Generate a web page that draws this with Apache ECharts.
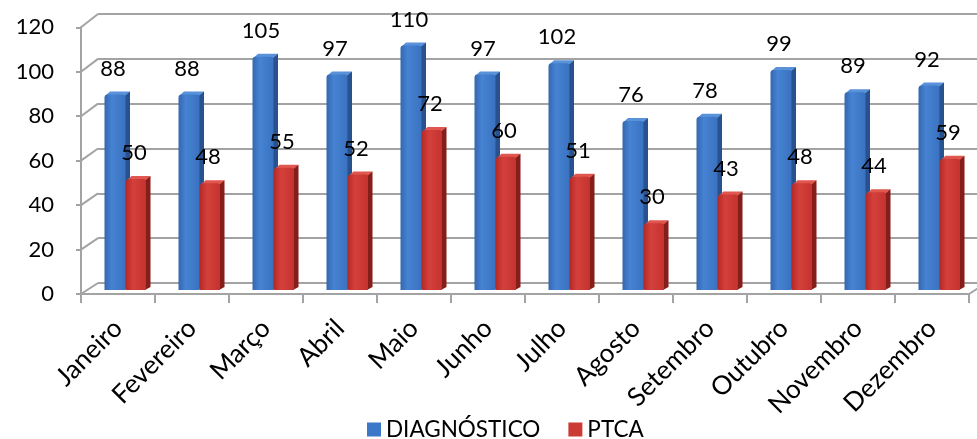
<!DOCTYPE html>
<html>
<head>
<meta charset="utf-8">
<script src="https://cdn.jsdelivr.net/npm/echarts@6/dist/echarts.min.js"></script>
<style>
  html, body { margin: 0; padding: 0; background: #fff; }
  #chart { width: 977px; height: 439px; }
</style>
</head>
<body>
<div id="chart"></div>
<script>
// Monthly procedure counts
const months = ['Janeiro', 'Fevereiro', 'Março', 'Abril', 'Maio', 'Junho',
  'Julho', 'Agosto', 'Setembro', 'Outubro', 'Novembro', 'Dezembro'];
const diagnostico = [88, 88, 105, 97, 110, 97, 102, 76, 78, 99, 89, 92];
const ptca = [50, 48, 55, 52, 72, 60, 51, 30, 43, 48, 44, 59];
const yTicks = [0, 20, 40, 60, 80, 100, 120];

const FONT = 'Lato, "Noto Sans", sans-serif';
const GRID_LINE = '#a3a3a3';

// Front plane (axes, labels, bars) and back wall of the pseudo-3D box
const W = 977, H = 439;
const FRONT = { left: 81, right: 8, top: 27.3, bottom: 145 };
const BACK = { left: 98, right: -9, top: 14, bottom: 156 };

// Bar geometry relative to the category centre on the front plane
const LIFT = 4;          // bars stand slightly behind the front edge
const SIDE_X = 4.5, SIDE_Y = 3;

const palettes = {
  blue: {
    front: new echarts.graphic.LinearGradient(0, 0, 1, 0, [
      { offset: 0, color: '#3467b0' }, { offset: 0.35, color: '#4683d2' },
      { offset: 1, color: '#3a72c0' }]),
    side: '#28528f', top: '#5a92da', legend: '#3b78c8'
  },
  red: {
    front: new echarts.graphic.LinearGradient(0, 0, 1, 0, [
      { offset: 0, color: '#b52a26' }, { offset: 0.35, color: '#d4403b' },
      { offset: 1, color: '#c5332e' }]),
    side: '#851d1a', top: '#e0574f', legend: '#cc3a35'
  }
};

function barRenderer(faceFrom, faceTo, pal) {
  return function (params, api) {
    const i = api.value(0), v = api.value(1);
    const base = api.coord([i, 0]);
    const top = api.coord([i, v]);
    const x0 = base[0] + faceFrom, x1 = base[0] + faceTo;
    const yb = base[1] - LIFT, yt = top[1] - LIFT;
    return {
      type: 'group',
      children: [
        { type: 'polygon', z2: 1,
          shape: { points: [[x1 - 1, yt], [x1 + SIDE_X, yt - SIDE_Y], [x1 + SIDE_X, yb - SIDE_Y], [x1 - 1, yb]] },
          style: { fill: pal.side } },
        { type: 'polygon', z2: 1,
          shape: { points: [[x0 + 1, yt + 1], [x0 + SIDE_X + 1, yt - SIDE_Y], [x1 + SIDE_X, yt - SIDE_Y], [x1, yt + 1]] },
          style: { fill: pal.top } },
        { type: 'rect', z2: 2,
          shape: { x: x0, y: yt, width: x1 - x0, height: yb - yt, r: [3, 3, 0, 0] },
          style: { fill: pal.front } },
        { type: 'text', z2: 100,
          style: { text: String(v), x: (x0 + x1) / 2 - 2, y: yt - 26,
            align: 'center', verticalAlign: 'middle',
            font: '22px ' + FONT, fill: '#000' } }
      ]
    };
  };
}

const chart = echarts.init(document.getElementById('chart'), null, { renderer: 'canvas' });

const option = {
  animation: false,
  backgroundColor: '#fff',
  grid: [
    Object.assign({ containLabel: false }, FRONT),
    Object.assign({ containLabel: false }, BACK)
  ],
  xAxis: [
    { type: 'category', gridIndex: 0, data: months, boundaryGap: true,
      axisLine: { show: true, lineStyle: { color: GRID_LINE, width: 2 } },
      axisTick: { show: true, length: 9, inside: false, lineStyle: { color: GRID_LINE, width: 2 } },
      axisLabel: { rotate: 45, margin: 30, fontSize: 26, fontFamily: FONT, color: '#000', interval: 0 },
      splitLine: { show: false } },
    { type: 'category', gridIndex: 1, data: months, show: false }
  ],
  yAxis: [
    { type: 'value', gridIndex: 0, min: 0, max: 120, interval: 20,
      axisLine: { show: true, lineStyle: { color: GRID_LINE, width: 2 } },
      axisTick: { show: true, length: 5, lineStyle: { color: GRID_LINE, width: 2 } },
      axisLabel: { margin: 27, fontSize: 22, fontFamily: FONT, color: '#000' },
      splitLine: { show: false } },
    { type: 'value', gridIndex: 1, min: 0, max: 120, interval: 20,
      axisLine: { show: false }, axisTick: { show: false }, axisLabel: { show: false },
      splitLine: { show: true, lineStyle: { color: GRID_LINE, width: 2 } } }
  ],
  legend: {
    top: 418, left: 367, padding: 0, icon: 'rect', itemWidth: 14, itemHeight: 14, itemGap: 28,
    textStyle: { fontSize: 22.5, fontFamily: FONT, color: '#000' },
    data: [
      { name: 'DIAGNÓSTICO', itemStyle: { color: palettes.blue.legend } },
      { name: 'PTCA', itemStyle: { color: palettes.red.legend } }
    ]
  },
  series: [
    { name: 'DIAGNÓSTICO', type: 'custom', xAxisIndex: 0, yAxisIndex: 0,
      itemStyle: { color: palettes.blue.legend },
      data: diagnostico.map((v, i) => [i, v]),
      renderItem: barRenderer(-13.5, 7.5, palettes.blue) },
    { name: 'PTCA', type: 'custom', xAxisIndex: 0, yAxisIndex: 0,
      itemStyle: { color: palettes.red.legend },
      data: ptca.map((v, i) => [i, v]),
      renderItem: barRenderer(8, 28, palettes.red) }
  ]
};
chart.setOption(option);

// Side wall and floor edges joining the front axis to the back wall
const wallLines = [];
yTicks.forEach(function (v) {
  const yf = chart.convertToPixel({ yAxisIndex: 0 }, v);
  const yb = chart.convertToPixel({ yAxisIndex: 1 }, v);
  wallLines.push({ type: 'line', z: 1, silent: true,
    shape: { x1: FRONT.left, y1: yf, x2: BACK.left, y2: yb },
    style: { stroke: GRID_LINE, lineWidth: 2 } });
});
const yf0 = chart.convertToPixel({ yAxisIndex: 0 }, 0);
const yb0 = chart.convertToPixel({ yAxisIndex: 1 }, 0);
wallLines.push({ type: 'line', z: 1, silent: true,
  shape: { x1: W - FRONT.right, y1: yf0, x2: W - BACK.right, y2: yb0 },
  style: { stroke: GRID_LINE, lineWidth: 2 } });
chart.setOption({ graphic: wallLines });
</script>
</body>
</html>
